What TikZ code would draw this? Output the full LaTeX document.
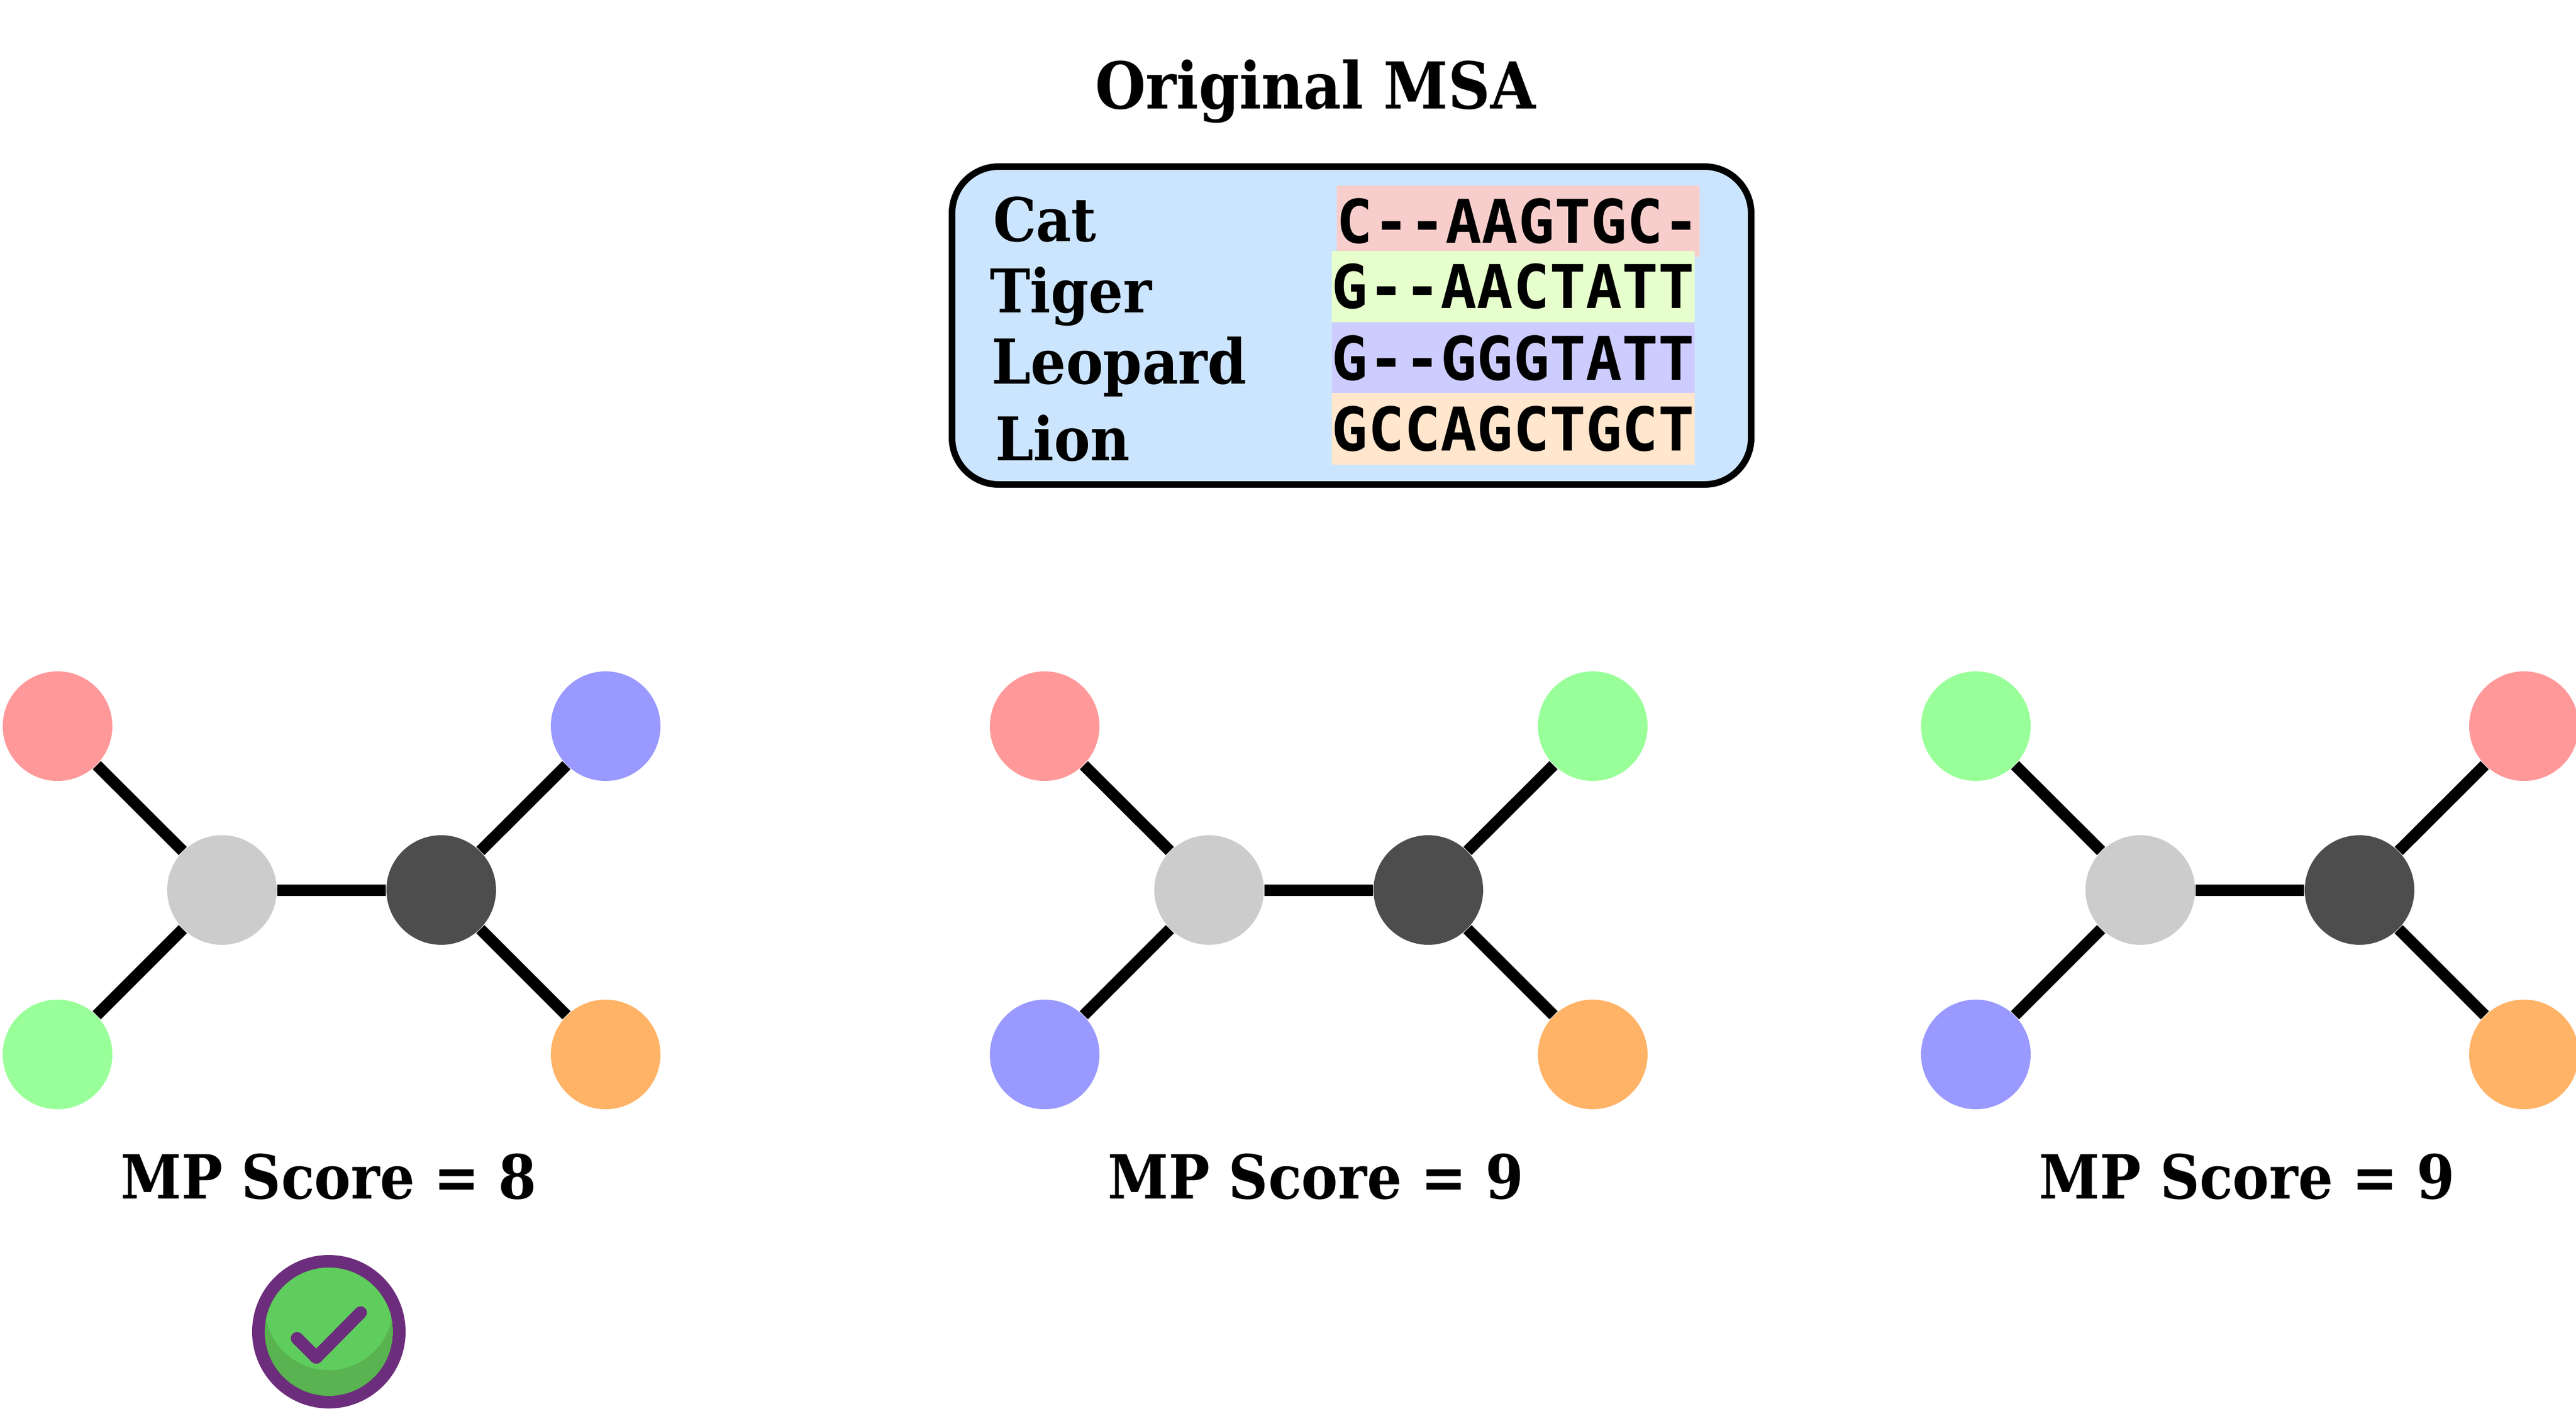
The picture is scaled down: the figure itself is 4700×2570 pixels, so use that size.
\documentclass[tikz,border=0pt]{standalone}
\usepackage{fontspec}
\setmainfont{DejaVu Serif Condensed}[BoldFont={DejaVu Serif Condensed Bold}]
\newfontfamily\seqfont{DejaVu Sans Mono Bold}
\definecolor{boxblue}{HTML}{CCE5FF}
\definecolor{catbar}{HTML}{F8CECC}
\definecolor{tigerbar}{HTML}{E6FFCC}
\definecolor{leopardbar}{HTML}{CCCCFF}
\definecolor{lionbar}{HTML}{FFE6CC}
\definecolor{leafred}{HTML}{FF9999}
\definecolor{leafblue}{HTML}{9999FF}
\definecolor{leafgreen}{HTML}{99FF99}
\definecolor{leaforange}{HTML}{FFB366}
\definecolor{innerlight}{HTML}{CCCCCC}
\definecolor{innerdark}{HTML}{4D4D4D}
\definecolor{tickpurple}{HTML}{6C2E7C}
\definecolor{tickgreen}{HTML}{5FCD5D}
\definecolor{tickshade}{HTML}{58B350}
\begin{document}
\begin{tikzpicture}
    [x=0.2pt,y=-0.2pt,
     title/.style={font=\fontsize{#1}{#1}\selectfont\bfseries,inner sep=0pt},
     taxon/.style={font=\fontsize{#1}{#1}\selectfont\bfseries,inner sep=0pt,anchor=base west},
     seqbar/.style={font=\fontsize{22}{22}\seqfont,inner sep=0pt,minimum height=#1,text height=16pt,text depth=0pt,minimum width=132.2pt},
     vertex/.style={circle,fill=#1,inner sep=0pt,minimum size=40pt},
     branch/.style={line width=4.2pt}]
    \path[use as bounding box,clip] (0,0) rectangle (4700,2570);
    \node[title=23.6] (msatitle) at (2400,167) {Original MSA};
    \node[draw=black,line width=2.4pt,fill=boxblue,rounded corners=17pt,minimum width=291.6pt,minimum height=116pt,inner sep=0pt] (msabox) at (2466,594) {};
    % sequences
    \node[seqbar=26pt,fill=catbar] (seqcat) at (2770,404) {C--AAGTGC-};
    \node[seqbar=25.8pt,fill=tigerbar] (seqtiger) at (2761,523) {G--AACTATT};
    \node[seqbar=25.8pt,fill=leopardbar] (seqleopard) at (2761,653) {G--GGGTATT};
    \node[seqbar=26.2pt,fill=lionbar] (seqlion) at (2761,782) {GCCAGCTGCT};
    \node[taxon=22] (cat) at (1811,441) {Cat};
    \node[taxon=22] (tiger) at (1805,570) {Tiger};
    \node[taxon=22.6] (leopard) at (1808,700) {Leopard};
    \node[taxon=22] (lion) at (1815,840) {Lion};
    % trees
    \foreach \tree/\dx/\score/\colNW/\colNE/\colSW in {
        a/0/8/leafred/leafblue/leafgreen,
        b/1801/9/leafred/leafgreen/leafblue,
        c/3500/9/leafgreen/leafred/leafblue} {
      \node[vertex=\colNW] (nw\tree) at (105+\dx,1325) {};
      \node[vertex=\colNE] (ne\tree) at (1105+\dx,1325) {};
      \node[vertex=\colSW] (sw\tree) at (105+\dx,1924) {};
      \node[vertex=leaforange] (se\tree) at (1105+\dx,1924) {};
      \node[vertex=innerlight] (left\tree) at (405+\dx,1624) {};
      \node[vertex=innerdark] (right\tree) at (805+\dx,1624) {};
      \draw[branch] (nw\tree) -- (left\tree);
      \draw[branch] (sw\tree) -- (left\tree);
      \draw[branch] (ne\tree) -- (right\tree);
      \draw[branch] (se\tree) -- (right\tree);
      \draw[branch] (left\tree) -- (right\tree);
      \node[title=22.2] (score\tree) at (600+\dx,2147) {MP Score = \score};
    }
    % tick
    \fill[tickpurple] (600,2430) circle[radius=28pt];
    \begin{scope}
      \clip (600,2430) circle[radius=23.4pt];
      \fill[tickshade] (600,2430) circle[radius=23.4pt];
      \fill[tickgreen] (600,2383) circle[radius=23.4pt];
    \end{scope}
    \draw[tickpurple,line width=4.6pt,line cap=round,line join=round] (542,2442) -- (577,2477) -- (658,2395);
\end{tikzpicture}
\end{document}
